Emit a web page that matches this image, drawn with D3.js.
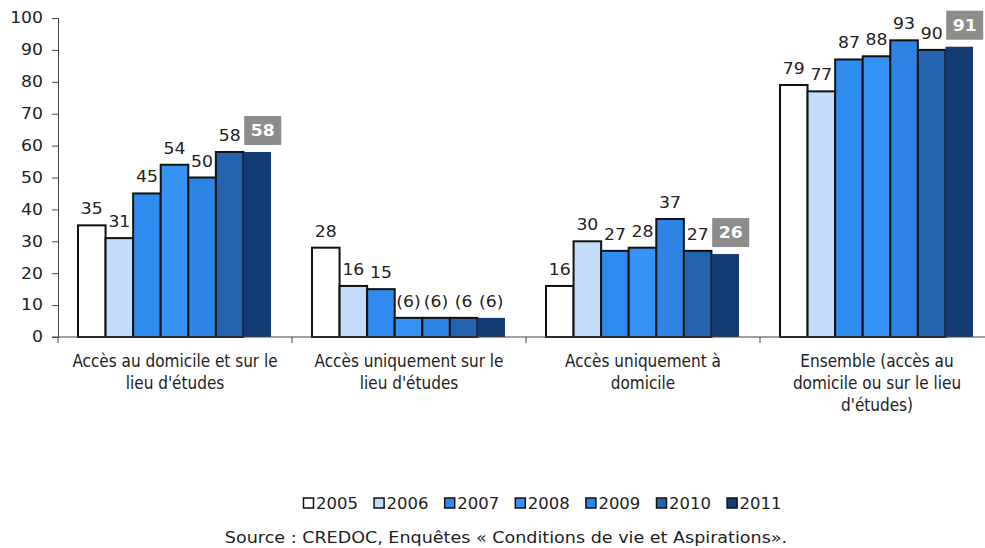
<!DOCTYPE html>
<html>
<head>
<meta charset="utf-8">
<script src="https://cdn.jsdelivr.net/npm/d3@7"></script>
<style>
  body { margin: 0; background: #fff; }
  svg { display: block; }
</style>
</head>
<body>
<script>
// Data
const categories = [
    ["Accès au domicile et sur le", "lieu d'études"],
    ["Accès uniquement sur le", "lieu d'études"],
    ["Accès uniquement à", "domicile"],
    ["Ensemble (accès au", "domicile ou sur le lieu", "d'études)"]
];
const years = ["2005", "2006", "2007", "2008", "2009", "2010", "2011"];
const values = [
    [35, 31, 45, 54, 50, 58, 58],
    [28, 16, 15, 6, 6, 6, 6],
    [16, 30, 27, 28, 37, 27, 26],
    [79, 77, 87, 88, 93, 90, 91]
];
const valueLabels = [
    ["35", "31", "45", "54", "50", "58", "58"],
    ["28", "16", "15", "(6)", "(6)", "(6", "(6)"],
    ["16", "30", "27", "28", "37", "27", "26"],
    ["79", "77", "87", "88", "93", "90", "91"]
];
const yTicks = [0, 10, 20, 30, 40, 50, 60, 70, 80, 90, 100];
const colors = ["#ffffff", "#c2dcfa", "#2f8cee", "#3792f6", "#2d84e4", "#2463ae", "#143c72"];
const source = "Source : CREDOC, Enquêtes « Conditions de vie et Aspirations».";

const width = 985, height = 548;
const font = "'DejaVu Sans', Verdana, sans-serif";
const sx = 1.15; // the original text is a little wider than DejaVu

const svg = d3.select("body").append("svg")
    .attr("width", width)
    .attr("height", height);

// text stretched horizontally around its anchor point
function addText(parent, x, y, s) {
    return parent.append("g")
        .attr("transform", `translate(${x},${y}) scale(${s},1)`)
        .append("text")
        .attr("font-family", font)
        .attr("fill", "#222");
}

const x0 = d3.scaleBand()
    .domain(d3.range(categories.length))
    .range([58, 994]);

const x1 = d3.scaleBand()
    .domain(years)
    .range([20, x0.bandwidth() - 21]);

const y = d3.scaleLinear()
    .domain([0, 100])
    .range([337, 18]);

// y axis
const yAxis = svg.append("g")
    .attr("transform", "translate(58,0)")
    .call(d3.axisLeft(y).tickValues(yTicks).tickSize(6).tickPadding(7));
yAxis.select(".domain").attr("stroke", "#444");
yAxis.selectAll(".tick line").attr("stroke", "#444");
yAxis.selectAll("text")
    .attr("font-family", font)
    .attr("font-size", 15)
    .attr("fill", "#222")
    .attr("transform", `scale(${sx},1)`);

// bars
const groups = svg.selectAll(".grp")
    .data(values)
    .enter()
    .append("g")
    .attr("class", "grp")
    .attr("transform", (d, i) => `translate(${x0(i)},0)`);

groups.selectAll("rect")
    .data(d => d.map((v, j) => ({ v, year: years[j], j })))
    .enter()
    .append("rect")
    .attr("x", d => x1(d.year))
    .attr("y", d => y(d.v))
    .attr("width", x1.bandwidth())
    .attr("height", d => y(0) - y(d.v))
    .attr("fill", d => colors[d.j])
    .attr("stroke", d => d.j === 6 ? "none" : "#111")
    .attr("stroke-width", 2);

// value labels
groups.each(function (row, i) {
    const g = d3.select(this);
    row.forEach((v, j) => {
        const cx = x1(years[j]) + x1.bandwidth() / 2;
        const txt = valueLabels[i][j];
        const boxed = j === 6 && i !== 1;
        if (boxed) {
            g.append("rect")
                .attr("x", cx - 13)
                .attr("y", y(v) - 36)
                .attr("width", 37)
                .attr("height", 29)
                .attr("fill", "#8c8c8c");
            addText(g, cx + 5.5, y(v) - 16, sx)
                .attr("text-anchor", "middle")
                .attr("font-size", 15)
                .attr("font-weight", "bold")
                .attr("fill", "#fff")
                .text(txt);
        } else {
            addText(g, cx, y(v) - 11, sx)
                .attr("text-anchor", "middle")
                .attr("font-size", 15)
                .text(txt);
        }
    });
});

// x axis
const xAxisG = svg.append("g");
xAxisG.append("line")
    .attr("x1", 52).attr("x2", 994)
    .attr("y1", y(0)).attr("y2", y(0))
    .attr("stroke", "#444");
xAxisG.selectAll(".xt")
    .data(d3.range(categories.length + 1))
    .enter()
    .append("line")
    .attr("x1", i => i < categories.length ? x0(i) : x0(i - 1) + x0.bandwidth())
    .attr("x2", i => i < categories.length ? x0(i) : x0(i - 1) + x0.bandwidth())
    .attr("y1", y(0)).attr("y2", y(0) + 6)
    .attr("stroke", "#444");

categories.forEach((lines, i) => {
    lines.forEach((line, k) => {
        addText(xAxisG, x0(i) + x0.bandwidth() / 2, 367 + k * 22, 1)
            .attr("text-anchor", "middle")
            .attr("font-family", "'DejaVu Sans Condensed', 'DejaVu Sans', sans-serif")
            .attr("font-size", 17)
            .text(line);
    });
});

// legend
const legend = svg.append("g").attr("transform", "translate(303,497)");
years.forEach((yr, i) => {
    const it = legend.append("g").attr("transform", `translate(${i * 70.6},0)`);
    it.append("rect")
        .attr("x", 0.5).attr("y", 1)
        .attr("width", 10).attr("height", 10)
        .attr("fill", colors[i])
        .attr("stroke", "#111")
        .attr("stroke-width", 1.5);
    addText(it, 13, 12, 1.1)
        .attr("font-size", 15)
        .text(yr);
});

// source
addText(svg, 506, 543, 1.17)
    .attr("text-anchor", "middle")
    .attr("font-size", 15)
    .text(source);
</script>
</body>
</html>
